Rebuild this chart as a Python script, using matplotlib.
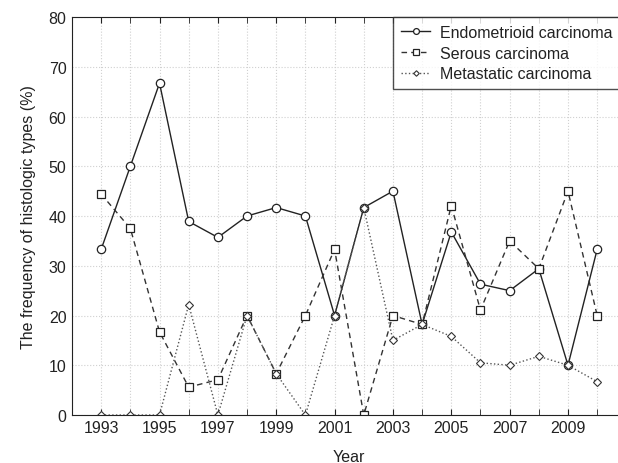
import numpy as np
import matplotlib.pyplot as plt
from matplotlib.ticker import MultipleLocator

plt.rcParams['font.family'] = ['Liberation Sans', 'DejaVu Sans']

years = np.arange(1993, 2011)
endometrioid = [33.3, 50, 66.7, 38.9, 35.7, 40, 41.7, 40, 20, 41.7, 45, 18.2, 36.8, 26.3, 25, 29.4, 10, 33.3]
serous = [44.4, 37.5, 16.7, 5.6, 7.1, 20, 8.3, 20, 33.3, 0, 20, 18.2, 42.1, 21.1, 35, 29.4, 45, 20]
metastatic = [0, 0, 0, 22.2, 0, 20, 8.3, 0, 20, 41.7, 15, 18.2, 15.8, 10.5, 10, 11.8, 10, 6.7]

fig = plt.figure(figsize=(6.18, 4.64), dpi=100)
ax = fig.add_axes([0.1165, 0.1034, 0.897, 0.8578])

ax.plot(years, endometrioid, '-', color='#222222', lw=1.0, marker='o', ms=6,
        mfc='white', mec='#222222', mew=0.9, label='Endometrioid carcinoma')
ax.plot(years, serous, '--', color='#333333', lw=1.0, marker='s', ms=6,
        mfc='white', mec='#222222', mew=0.9, label='Serous carcinoma', dashes=(4, 3))
ax.plot(years, metastatic, ':', color='#555555', lw=1.0, marker='D', ms=4,
        mfc='white', mec='#333333', mew=0.8, label='Metastatic carcinoma')

ax.set_xlim(1992, 2011)
ax.set_ylim(0, 80)
ax.xaxis.set_minor_locator(MultipleLocator(1))
ax.set_xticks(np.arange(1993, 2011, 2))
ax.yaxis.set_major_locator(MultipleLocator(10))
ax.grid(True, which='both', axis='x', color='#d0d0d0', lw=0.8, ls=':')
ax.grid(True, which='major', axis='y', color='#d0d0d0', lw=0.8, ls=':')
ax.tick_params(which='both', direction='in', top=True, right=False, labelsize=11.5, colors='#222222', length=4)
ax.tick_params(axis='y', length=0, pad=4)
for s in ['top', 'left', 'bottom']:
    ax.spines[s].set_color('#222222')
ax.spines['right'].set_visible(False)

ax.set_xlabel('Year', fontsize=11.5, color='#222222', labelpad=10)
ax.set_ylabel('The frequency of histologic types (%)', fontsize=11.5, color='#222222', labelpad=9)

leg = ax.legend(loc='upper right', bbox_to_anchor=(0.989, 1.0), fontsize=11.5, frameon=True, fancybox=False,
                edgecolor='#222222', borderaxespad=0, handlelength=1.8, handletextpad=0.6,
                labelspacing=0.35, borderpad=0.5, markerscale=0.7)
leg.get_frame().set_linewidth(1.0)
for t in leg.get_texts():
    t.set_color('#222222')

fig.savefig('out.png', dpi=100)
